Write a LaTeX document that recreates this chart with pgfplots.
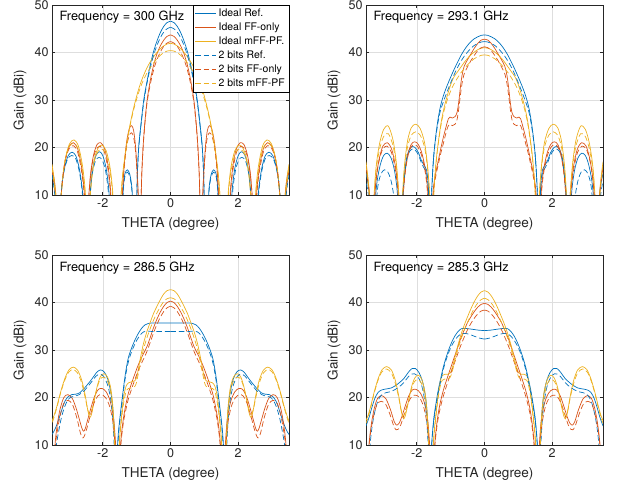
\documentclass[border=0pt]{standalone}
\usepackage{fontspec}
\setmainfont{TeX Gyre Heros}
\usepackage{pgfplots}
\pgfplotsset{compat=1.18}

\definecolor{mblue}{rgb}{0,0.447,0.741}
\definecolor{mred}{rgb}{0.85,0.325,0.098}
\definecolor{myel}{rgb}{0.929,0.694,0.125}
\definecolor{mtxt}{rgb}{0.15,0.15,0.15}
\definecolor{mgrid}{rgb}{0.87,0.87,0.87}

% each curve is symmetric in theta: the half x>=0 is given, the other half is its mirror
\newcommand{\mir}[2]{%
  \addplot[#1] coordinates {#2};
  \addplot[#1,forget plot,x filter/.expression={-x}] coordinates {#2};
}

\tikzset{freq/.style={anchor=west, inner xsep=0pt, font=\fontsize{12.8}{14}\selectfont}}

\pgfplotsset{
  panel/.style={
    scale only axis, width=237bp, height=190bp,
    xmin=-3.5, xmax=3.5, ymin=10, ymax=50,
    xtick={-2,0,2}, ytick={10,20,30,40,50},
    grid=major, major grid style={mgrid, line width=0.5bp},
    axis line style={mtxt, line width=0.6bp},
    tick style={mtxt, line width=0.6bp},
    major tick length=3bp, tick align=inside,
    ticklabel style={font=\fontsize{12.6}{14}\selectfont, text=mtxt},
    /pgf/number format/assume math mode=true,
    xlabel={THETA (degree)}, ylabel={Gain (dBi)},
    label style={font=\fontsize{13.6}{15}\selectfont, text=mtxt},
    xlabel style={at={(axis description cs:0.5,-0.155)}, anchor=center},
    ylabel style={at={(axis description cs:-0.135,0.5)}, anchor=center},
  },
  rs/.style={color=mblue, line width=0.7pt, smooth},
  fs/.style={color=mred, line width=0.7pt, smooth},
  ms/.style={color=myel, line width=0.7pt, smooth},
  rd/.style={color=mblue, dash pattern=on 5.5bp off 3bp, line width=0.7pt, smooth},
  fd/.style={color=mred, dash pattern=on 5.5bp off 3bp, line width=0.7pt, smooth},
  md/.style={color=myel, dash pattern=on 5.5bp off 3bp, line width=0.7pt, smooth},
}

\begin{document}
\begin{tikzpicture}
\useasboundingbox (0,0) rectangle (617bp,490bp);

% ---------------- 300 GHz ----------------
\begin{axis}[panel, at={(52bp,485bp)}, anchor=north west,
  legend style={at={(1,1)}, anchor=north east,
    font=\fontsize{10.5}{12.5}\selectfont, row sep=0.9bp,
    inner xsep=2bp, inner ysep=2bp},
  legend cell align=left,
  legend image code/.code={\draw[#1, line width=1pt] (0bp,0bp) -- (21bp,0bp);}]
\mir{rs}{(0,46.6) (0.1,46.3) (0.2,45.5) (0.3,44.2) (0.4,42.4) (0.5,40.2) (0.6,37.3) (0.7,33.7) (0.79,30) (0.87,25) (0.94,20) (0.98,14) (1.02,4) (1.1,6) (1.14,11.5) (1.2,14.3) (1.27,15.3) (1.34,14.6) (1.39,12) (1.44,5) (1.6,0) (1.77,5) (1.82,11) (1.9,15.6) (2,18.3) (2.09,19.1) (2.18,18.6) (2.27,16.6) (2.34,13) (2.4,6) (2.47,0) (2.55,6) (2.61,11.5) (2.7,15.8) (2.8,18.3) (2.91,19) (3.02,18.3) (3.12,16) (3.2,12.5) (3.27,6) (3.32,2) (3.38,8) (3.44,12.5) (3.5,14.8)}
\mir{fs}{(0,43.7) (0.1,43.4) (0.2,42.6) (0.3,41.4) (0.4,39.7) (0.5,37.3) (0.6,34) (0.69,30) (0.76,25) (0.81,20) (0.85,14) (0.89,4) (0.93,6) (0.97,13) (1.03,20) (1.09,23.6) (1.15,24.6) (1.22,23.9) (1.3,21) (1.37,16) (1.42,10) (1.46,3) (1.6,0) (1.72,4) (1.77,11) (1.85,16.5) (1.95,19.8) (2.06,21) (2.17,20.6) (2.27,18.5) (2.36,14.5) (2.42,9) (2.46,3) (2.5,4) (2.55,11) (2.63,16) (2.74,19.7) (2.86,21) (2.98,20.4) (3.09,18) (3.18,14) (3.25,8) (3.29,2) (3.35,7) (3.42,12.5) (3.5,15.8)}
\mir{ms}{(0,41.9) (0.1,41.8) (0.2,41.4) (0.3,40.8) (0.4,40) (0.5,39.1) (0.6,38) (0.7,36.7) (0.8,35.1) (0.9,33.2) (1,30.8) (1.1,28) (1.19,25) (1.27,21.8) (1.34,18.5) (1.41,14.5) (1.47,9) (1.52,3) (1.6,0) (1.66,4) (1.71,11) (1.79,16) (1.9,19.3) (2.02,20.5) (2.13,20) (2.24,17.8) (2.33,13.5) (2.39,8) (2.43,2) (2.47,4) (2.52,11) (2.6,16.2) (2.72,20.3) (2.85,21.6) (2.98,20.8) (3.09,18.2) (3.18,14) (3.25,8) (3.3,2) (3.36,8) (3.43,13) (3.5,16.5)}
\mir{rd}{(0,45.3) (0.1,45) (0.2,44.3) (0.3,43.1) (0.4,41.5) (0.5,39.4) (0.6,36.7) (0.7,33.3) (0.79,29.5) (0.87,24.8) (0.94,19.8) (0.98,14) (1.02,4) (1.1,6) (1.14,11) (1.2,13.8) (1.27,14.8) (1.34,14.1) (1.39,11.5) (1.44,5) (1.6,0) (1.78,5) (1.84,11) (1.92,15.2) (2.02,17.4) (2.11,17.9) (2.2,17.4) (2.28,15.6) (2.35,12.5) (2.41,6) (2.48,0) (2.56,6) (2.62,11.5) (2.71,15.5) (2.81,17.8) (2.92,18.3) (3.03,17.7) (3.13,15.5) (3.21,12) (3.27,6) (3.32,2) (3.39,8) (3.45,12) (3.5,14)}
\mir{fd}{(0,42.3) (0.1,42) (0.2,41.3) (0.3,40.1) (0.4,38.5) (0.5,36.3) (0.6,33.2) (0.69,29.5) (0.76,24.7) (0.81,19.8) (0.85,14) (0.89,4) (0.93,6) (0.97,12.5) (1.03,19) (1.09,22.2) (1.15,23.1) (1.22,22.5) (1.3,20) (1.37,15.5) (1.42,10) (1.46,3) (1.6,0) (1.73,4) (1.78,11) (1.86,16) (1.96,19.2) (2.07,20.2) (2.18,19.8) (2.28,17.8) (2.36,14) (2.42,9) (2.46,3) (2.51,4) (2.56,11) (2.64,15.6) (2.75,19.2) (2.87,20.4) (2.99,19.8) (3.1,17.5) (3.18,13.5) (3.25,8) (3.29,2) (3.36,7) (3.43,12) (3.5,15)}
\mir{md}{(0,40.4) (0.1,40.3) (0.2,40) (0.3,39.4) (0.4,38.7) (0.5,37.8) (0.6,36.8) (0.7,35.6) (0.8,34.2) (0.9,32.4) (1,30.2) (1.1,27.6) (1.19,24.7) (1.27,21.5) (1.34,18.2) (1.41,14.2) (1.47,9) (1.52,3) (1.6,0) (1.67,4) (1.72,11) (1.8,15.6) (1.91,18.7) (2.03,19.7) (2.14,19.2) (2.25,17.2) (2.33,13.2) (2.39,8) (2.43,2) (2.48,4) (2.53,11) (2.61,15.8) (2.73,19.7) (2.86,20.9) (2.99,20.2) (3.1,17.8) (3.18,13.7) (3.25,8) (3.3,2) (3.37,8) (3.44,12.5) (3.5,15.8)}
\node[freq] at (axis description cs:0.031,0.938) {Frequency = 300 GHz};
\legend{Ideal Ref.,Ideal FF-only,Ideal mFF-PF.,2 bits Ref.,2 bits FF-only,2 bits mFF-PF}
\end{axis}

% ---------------- 293.1 GHz ----------------
\begin{axis}[panel, at={(366bp,485bp)}, anchor=north west]
\mir{rs}{(0,43.7) (0.1,43.6) (0.2,43.3) (0.3,42.9) (0.4,42.3) (0.5,41.5) (0.6,40.5) (0.7,39.3) (0.8,37.9) (0.9,36.4) (1,34.8) (1.1,33.1) (1.2,31.2) (1.3,28.7) (1.38,25.6) (1.44,22.4) (1.49,19) (1.53,15) (1.57,9) (1.6,2) (1.63,6) (1.66,12) (1.71,15.2) (1.78,16.2) (1.86,17.2) (1.95,18.9) (2.04,19.9) (2.12,20.2) (2.21,19.7) (2.3,17.8) (2.37,14) (2.43,8) (2.47,2) (2.53,5) (2.58,11) (2.66,15.2) (2.76,17.8) (2.87,18.8) (2.98,18.3) (3.08,16.3) (3.17,13) (3.24,8) (3.29,2) (3.35,6) (3.42,11.5) (3.5,14.5)}
\mir{fs}{(0,42.8) (0.1,42.6) (0.2,41.9) (0.3,40.9) (0.4,39.7) (0.5,38.5) (0.6,37.1) (0.66,35.3) (0.71,32.8) (0.76,29.6) (0.81,27.4) (0.87,26.5) (0.95,26.2) (1.02,26.4) (1.07,26) (1.13,24.5) (1.21,22.3) (1.29,19.8) (1.36,17.4) (1.43,15) (1.5,12) (1.55,7) (1.59,2) (1.64,4) (1.68,11) (1.75,15.5) (1.85,18.8) (1.96,20.7) (2.06,21.2) (2.16,20.7) (2.26,18.6) (2.35,14.5) (2.41,9) (2.45,2) (2.5,4) (2.55,11) (2.63,16) (2.74,19.6) (2.87,21) (3,20.3) (3.11,17.6) (3.2,13.5) (3.26,8) (3.3,2) (3.37,8) (3.44,13) (3.5,16)}
\mir{ms}{(0,41) (0.1,40.9) (0.2,40.6) (0.3,40.1) (0.4,39.5) (0.5,38.8) (0.6,37.9) (0.7,36.9) (0.8,35.9) (0.9,34.9) (1,33.2) (1.1,30.9) (1.2,28.2) (1.28,25.3) (1.35,21.9) (1.41,18.4) (1.46,14.5) (1.5,10) (1.54,3) (1.58,3) (1.62,10) (1.68,16) (1.77,21) (1.9,24) (2.03,24.9) (2.16,24.2) (2.27,21.5) (2.36,16.5) (2.42,10) (2.46,3) (2.49,4) (2.53,10) (2.6,16.5) (2.7,21.5) (2.84,24.5) (2.98,23.8) (3.1,20.8) (3.2,16) (3.27,9) (3.31,2) (3.37,8) (3.44,13.5) (3.5,17)}
\mir{rd}{(0,42.3) (0.1,42.2) (0.2,41.9) (0.3,41.5) (0.4,40.9) (0.5,40.1) (0.6,39.2) (0.7,38.1) (0.8,36.8) (0.9,35.3) (1,33.6) (1.1,31.8) (1.2,29.9) (1.3,27.8) (1.38,25) (1.44,22) (1.49,19) (1.53,15) (1.57,9) (1.6,2) (1.63,6) (1.66,11.5) (1.71,14.6) (1.78,15.6) (1.86,16.7) (1.95,18.4) (2.04,19.4) (2.12,19.7) (2.21,19.2) (2.3,17.3) (2.37,13.5) (2.43,8) (2.47,2) (2.58,4) (2.66,9) (2.76,13) (2.86,14.9) (2.96,15.3) (3.06,14.4) (3.15,11.8) (3.22,6) (3.28,2) (3.36,6) (3.44,10.5) (3.5,13)}
\mir{fd}{(0,41.2) (0.1,41) (0.2,40.4) (0.3,39.4) (0.4,38.3) (0.5,37) (0.6,35.5) (0.66,33.6) (0.71,31.1) (0.76,28.2) (0.81,25.9) (0.87,24.9) (0.95,24.6) (1.02,24.9) (1.08,24.4) (1.14,23) (1.21,21) (1.29,18.8) (1.36,16.6) (1.43,14.3) (1.5,11.5) (1.55,7) (1.59,2) (1.65,4) (1.69,11) (1.76,15.2) (1.86,18.4) (1.97,20.1) (2.07,20.6) (2.17,20.1) (2.27,18) (2.35,14.2) (2.41,9) (2.45,2) (2.51,4) (2.56,11) (2.64,15.6) (2.75,19) (2.88,20.3) (3.01,19.6) (3.12,17) (3.2,13.2) (3.26,8) (3.3,2) (3.37,7.5) (3.44,12.5) (3.5,15.2)}
\mir{md}{(0,39.5) (0.1,39.4) (0.2,39.1) (0.3,38.7) (0.4,38.1) (0.5,37.4) (0.6,36.6) (0.7,35.7) (0.8,34.6) (0.9,33.4) (1,31.9) (1.1,30) (1.2,27.6) (1.28,24.9) (1.35,21.6) (1.41,18.2) (1.46,14.5) (1.5,10) (1.54,3) (1.58,3) (1.62,10) (1.68,15.5) (1.77,20) (1.9,22.6) (2.03,23.3) (2.16,22.6) (2.27,20.2) (2.36,15.8) (2.42,10) (2.46,3) (2.49,4) (2.53,10) (2.6,15.8) (2.7,20.3) (2.84,22.9) (2.98,22.3) (3.1,19.6) (3.2,15.3) (3.27,9) (3.31,2) (3.37,7) (3.44,12.5) (3.5,16)}
\node[freq] at (axis description cs:0.031,0.938) {Frequency = 293.1 GHz};
\end{axis}

% ---------------- 286.5 GHz ----------------
\begin{axis}[panel, at={(52bp,235bp)}, anchor=north west]
\mir{rs}{(0,35.7) (0.2,35.7) (0.4,35.7) (0.55,35.7) (0.65,35.6) (0.75,35.3) (0.85,34.6) (0.95,33.5) (1.05,32.1) (1.15,30.4) (1.24,28.5) (1.3,26.4) (1.36,23.6) (1.43,19.6) (1.49,16) (1.54,12.5) (1.58,8) (1.61,2) (1.64,8) (1.68,15.5) (1.75,20.5) (1.85,23.8) (1.96,25.4) (2.07,25.8) (2.18,25.3) (2.3,24.1) (2.42,23) (2.55,21.9) (2.68,21) (2.8,20.7) (2.92,20.6) (3.02,20.2) (3.12,19.2) (3.22,17.2) (3.32,15) (3.42,13.2) (3.5,12.2)}
\mir{fs}{(0,40.3) (0.1,40) (0.2,39.2) (0.3,38) (0.4,36.5) (0.5,34.7) (0.6,32.6) (0.69,30.8) (0.77,29.6) (0.85,28.5) (0.95,26.9) (1.04,25.2) (1.14,23.2) (1.24,21) (1.31,18.8) (1.38,16.1) (1.44,12.8) (1.49,8.5) (1.53,2) (1.58,2) (1.62,10) (1.68,15.5) (1.78,19.2) (1.9,21.2) (2.02,21.9) (2.13,21.7) (2.24,20.3) (2.35,17.8) (2.45,15.2) (2.52,13.4) (2.57,12.9) (2.62,13.6) (2.7,15.6) (2.79,17.8) (2.9,19.8) (3.03,20.6) (3.15,20) (3.26,17.6) (3.34,14.5) (3.4,11) (3.45,6) (3.5,4)}
\mir{ms}{(0,42.7) (0.1,42.5) (0.2,41.8) (0.3,40.6) (0.4,39.2) (0.5,37.7) (0.6,35.8) (0.7,33.8) (0.8,31.3) (0.88,28.6) (0.95,26) (1,24.2) (1.06,23.5) (1.15,23.3) (1.24,23.1) (1.31,22.4) (1.38,20.3) (1.44,16.5) (1.5,11.5) (1.54,5) (1.6,2) (1.64,10) (1.69,17) (1.76,21.8) (1.86,24.3) (1.97,25) (2.07,24.4) (2.16,22.5) (2.25,19.5) (2.32,16.8) (2.38,15.8) (2.44,17.2) (2.52,20.5) (2.62,23.6) (2.74,25.7) (2.87,26.4) (3,25.8) (3.12,24) (3.24,21.3) (3.35,18.3) (3.44,16.2) (3.5,15)}
\mir{rd}{(0,33.9) (0.3,33.9) (0.55,33.9) (0.7,34) (0.8,33.8) (0.9,33.1) (1,32) (1.1,30.5) (1.2,28.6) (1.28,26.4) (1.35,23.4) (1.42,19.6) (1.48,16) (1.53,12.5) (1.57,8) (1.6,2) (1.65,8) (1.7,15) (1.77,19.8) (1.87,22.9) (1.98,24.5) (2.09,24.9) (2.2,24.5) (2.32,23.4) (2.44,22.3) (2.57,21.3) (2.7,20.6) (2.82,20.3) (2.93,20.1) (3.03,19.5) (3.13,18) (3.22,15.8) (3.3,13) (3.37,10) (3.42,6) (3.46,2) (3.5,2)}
\mir{fd}{(0,39.2) (0.1,38.9) (0.2,38.1) (0.3,36.9) (0.4,35.4) (0.5,33.6) (0.6,31.6) (0.69,29.8) (0.77,28.5) (0.85,27.3) (0.95,25.7) (1.04,24) (1.14,22) (1.24,19.8) (1.31,17.7) (1.38,15.2) (1.44,12) (1.49,8) (1.53,2) (1.6,2) (1.64,10) (1.7,14.8) (1.8,18.2) (1.92,20) (2.04,20.6) (2.15,20.3) (2.26,18.8) (2.37,16.2) (2.47,13.5) (2.55,11.8) (2.6,11.5) (2.66,12.5) (2.77,15.8) (2.9,18.6) (3.03,19.4) (3.15,18.8) (3.25,16.5) (3.33,13.5) (3.4,10) (3.45,5) (3.5,3)}
\mir{md}{(0,41) (0.1,40.8) (0.2,40.2) (0.3,39.1) (0.4,37.8) (0.5,36.3) (0.6,34.5) (0.7,32.5) (0.8,30.1) (0.88,27.5) (0.95,25) (1.01,23) (1.07,22.2) (1.15,22) (1.24,21.9) (1.3,21.5) (1.36,19.8) (1.42,17) (1.48,13) (1.53,8.5) (1.57,2) (1.61,2) (1.65,10) (1.7,16.5) (1.77,21.2) (1.87,23.6) (1.98,24.3) (2.08,23.8) (2.17,22) (2.26,19.3) (2.33,17.2) (2.39,16.5) (2.45,17.6) (2.53,20.3) (2.63,23.2) (2.75,25.2) (2.88,25.9) (3.01,25.3) (3.13,23.5) (3.25,20.8) (3.36,17.8) (3.45,15.6) (3.5,14.5)}
\node[freq] at (axis description cs:0.031,0.932) {Frequency = 286.5 GHz};
\end{axis}

% ---------------- 285.3 GHz ----------------
\begin{axis}[panel, at={(366bp,235bp)}, anchor=north west]
\mir{rs}{(0,34.1) (0.15,34.15) (0.3,34.3) (0.45,34.45) (0.58,34.55) (0.68,34.5) (0.78,33.9) (0.88,32.9) (0.97,31.6) (1.05,30.2) (1.14,28.3) (1.22,26.3) (1.29,24.1) (1.36,21.8) (1.43,18.9) (1.49,16) (1.54,12.3) (1.58,7.5) (1.61,2) (1.64,8) (1.68,15) (1.73,19.5) (1.82,23.1) (1.93,25.2) (2.04,26.1) (2.14,26.1) (2.25,25.3) (2.37,24.1) (2.5,23.2) (2.63,22.5) (2.76,22) (2.9,21.8) (3.03,21.6) (3.14,21.1) (3.24,19.8) (3.33,17.8) (3.41,15.8) (3.5,14)}
\mir{fs}{(0,39.8) (0.1,39.6) (0.2,39) (0.3,38.1) (0.4,37) (0.5,35.8) (0.6,34.2) (0.72,32.1) (0.82,30) (0.92,27.9) (1.02,25.8) (1.12,23.7) (1.22,21.4) (1.31,18.8) (1.38,16) (1.44,12.5) (1.49,8) (1.53,2) (1.58,2) (1.62,10) (1.68,15.3) (1.78,19) (1.9,21) (2.02,21.7) (2.13,21.6) (2.24,20.3) (2.35,18) (2.45,15.8) (2.53,14.5) (2.6,14.2) (2.67,15) (2.78,17.5) (2.91,19.7) (3.04,20.4) (3.16,19.8) (3.26,17.6) (3.34,14.5) (3.4,11) (3.45,6) (3.5,4)}
\mir{ms}{(0,42.5) (0.1,42.2) (0.2,41.4) (0.3,40.2) (0.4,38.7) (0.5,37) (0.6,35.2) (0.7,33.1) (0.8,30.6) (0.88,28.3) (0.95,26.3) (1.01,25.2) (1.08,24.9) (1.17,24.9) (1.25,24.6) (1.31,23.2) (1.37,20.5) (1.43,16.8) (1.49,12.5) (1.53,7.5) (1.57,2) (1.6,2) (1.64,10) (1.69,16.5) (1.76,21.2) (1.86,23.9) (1.96,24.7) (2.06,24.1) (2.16,22.1) (2.25,19) (2.33,16.4) (2.39,15.5) (2.45,16.8) (2.53,20.2) (2.63,23.5) (2.75,25.8) (2.89,26.5) (3.02,25.9) (3.14,24) (3.26,21.1) (3.36,18.2) (3.44,16.2) (3.5,15.2)}
\mir{rd}{(0,32.3) (0.15,32.5) (0.3,32.9) (0.45,33.3) (0.58,33.5) (0.68,33.4) (0.78,32.9) (0.88,32) (0.97,30.9) (1.05,29.6) (1.14,27.8) (1.22,25.8) (1.29,23.6) (1.36,21.2) (1.43,18.4) (1.49,15.6) (1.54,12) (1.58,7.5) (1.61,2) (1.65,8) (1.7,14.5) (1.76,19) (1.85,22.4) (1.96,24.3) (2.07,25) (2.17,24.9) (2.28,24.1) (2.4,23) (2.53,22.2) (2.66,21.6) (2.79,21.2) (2.92,21) (3.03,20.6) (3.13,19.6) (3.22,17.6) (3.3,14.8) (3.36,11.5) (3.41,7) (3.45,2) (3.5,2)}
\mir{fd}{(0,38.4) (0.1,38.2) (0.2,37.6) (0.3,36.7) (0.4,35.6) (0.5,34.3) (0.6,32.7) (0.72,30.6) (0.82,28.6) (0.92,26.6) (1.02,24.6) (1.12,22.5) (1.22,20.2) (1.31,17.7) (1.38,15.1) (1.44,11.8) (1.49,7.5) (1.53,2) (1.6,2) (1.64,10) (1.7,14.5) (1.8,18.1) (1.92,20) (2.04,20.5) (2.15,20.2) (2.26,18.8) (2.37,16.5) (2.47,14.3) (2.55,13.3) (2.61,13.2) (2.68,14) (2.79,16.4) (2.92,18.6) (3.05,19.2) (3.17,18.6) (3.27,16.3) (3.35,13.3) (3.41,10) (3.46,5) (3.5,3)}
\mir{md}{(0,40.9) (0.1,40.6) (0.2,39.9) (0.3,38.8) (0.4,37.4) (0.5,35.8) (0.6,34.1) (0.7,32.1) (0.8,29.8) (0.88,27.6) (0.95,25.5) (1.01,24.3) (1.08,23.9) (1.17,23.9) (1.25,23.6) (1.31,22.3) (1.37,19.8) (1.43,16.2) (1.49,12) (1.53,7.5) (1.57,2) (1.61,2) (1.65,10) (1.7,16) (1.77,20.5) (1.87,23.1) (1.97,23.8) (2.07,23.3) (2.17,21.5) (2.26,18.8) (2.34,16.8) (2.4,16.2) (2.46,17.3) (2.54,20.2) (2.64,23.1) (2.76,25.3) (2.9,26) (3.03,25.4) (3.15,23.5) (3.27,20.6) (3.37,17.6) (3.45,15.6) (3.5,14.6)}
\node[freq] at (axis description cs:0.031,0.932) {Frequency = 285.3 GHz};
\end{axis}
\end{tikzpicture}
\end{document}
